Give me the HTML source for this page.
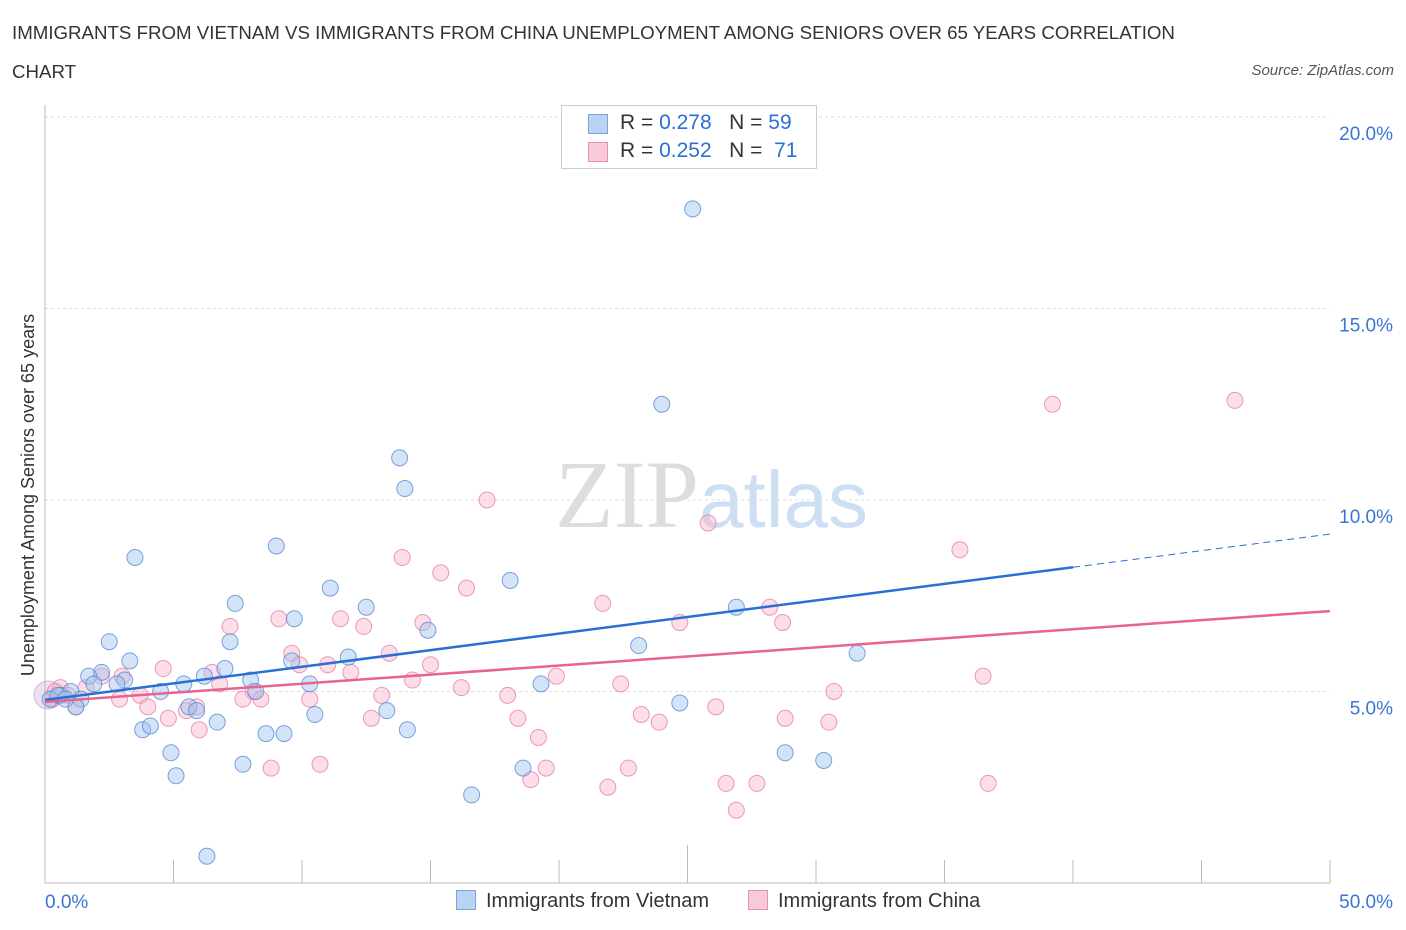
<!DOCTYPE html>
<html><head><meta charset="utf-8">
<style>
body{margin:0;background:#fff;font-family:"Liberation Sans",sans-serif;}
#wrap{position:relative;width:1406px;height:930px;overflow:hidden;}
.t{position:absolute;color:#333;font-size:18.7px;}
</style></head>
<body>
<div id="wrap">
<div class="t" style="left:12px;top:22px;">IMMIGRANTS FROM VIETNAM VS IMMIGRANTS FROM CHINA UNEMPLOYMENT AMONG SENIORS OVER 65 YEARS CORRELATION</div>
<div class="t" style="left:12px;top:61px;">CHART</div>
<div class="t" style="right:12px;top:62px;font-size:15px;font-style:italic;color:#555;">Source: ZipAtlas.com</div>
<svg id="svg" width="1406" height="930" style="position:absolute;left:0;top:0"></svg>
</div>
<script>
const yTicks=[5,10,15,20];
const yTickLabels=["5.0%","10.0%","15.0%","20.0%"];
const xTickLabels=["0.0%","50.0%"];
const vietX=[25.2,24.0,13.8,14.0,3.5,9.0,18.1,11.1,7.4,9.7,12.5,14.9,26.9,23.1,2.5,3.3,7.2,31.6,11.8,9.6,2.2,1.7,3.1,5.4,7.0,8.0,10.3,19.3,4.5,2.8,6.2,8.2,0.6,1.0,0.2,1.4,1.2,5.6,5.9,10.5,13.3,24.7,3.8,4.1,6.7,8.6,9.3,14.1,4.9,7.7,18.6,28.8,30.3,5.1,16.6,6.3,0.5,0.8,1.9];
const vietY=[17.6,12.5,11.1,10.3,8.5,8.8,7.9,7.7,7.3,6.9,7.2,6.6,7.2,6.2,6.3,5.8,6.3,6.0,5.9,5.8,5.5,5.4,5.3,5.2,5.6,5.3,5.2,5.2,5.0,5.2,5.4,5.0,4.9,5.0,4.8,4.8,4.6,4.6,4.5,4.4,4.5,4.7,4.0,4.1,4.2,3.9,3.9,4.0,3.4,3.1,3.0,3.4,3.2,2.8,2.3,0.7,4.9,4.8,5.2];
const chinaX=[46.3,39.2,17.2,25.8,35.6,13.9,15.4,16.4,21.7,28.2,24.7,28.7,9.1,11.5,7.2,14.7,9.6,12.4,13.4,11.0,9.9,15.0,11.9,19.9,4.6,6.5,36.5,14.3,22.4,16.2,30.7,2.2,3.0,6.8,8.1,8.4,13.1,18.0,1.6,0.6,0.9,3.7,2.9,1.2,7.7,10.3,4.0,5.9,26.1,23.2,4.8,12.7,18.4,23.9,28.8,30.5,5.5,6.0,19.2,8.8,10.7,19.5,22.7,26.5,27.7,36.7,18.9,21.9,26.9,0.3,0.4];
const chinaY=[12.6,12.5,10.0,9.4,8.7,8.5,8.1,7.7,7.3,7.2,6.8,6.8,6.9,6.9,6.7,6.8,6.0,6.7,6.0,5.7,5.7,5.7,5.5,5.4,5.6,5.5,5.4,5.3,5.2,5.1,5.0,5.4,5.4,5.2,5.0,4.8,4.9,4.9,5.1,5.1,4.9,4.9,4.8,4.6,4.8,4.8,4.6,4.6,4.6,4.4,4.3,4.3,4.3,4.2,4.3,4.2,4.5,4.0,3.8,3.0,3.1,3.0,3.0,2.6,2.6,2.6,2.7,2.5,1.9,4.8,5.0];
const vietTrend=[4.78,9.11], chinaTrend=[4.73,7.10];
const X=v=>45+v/50*1285, Y=v=>883-v/5*191.5;
const svg=document.getElementById('svg');
function mk(tag,attrs,parent){const e=document.createElementNS('http://www.w3.org/2000/svg',tag);for(const k in attrs)e.setAttribute(k,attrs[k]);(parent||svg).appendChild(e);return e;}
yTicks.forEach((t,i)=>{
 const g=mk('line',{x1:45,x2:1330,y1:Y(t),y2:Y(t),stroke:'#ddd','stroke-dasharray':'3,3'});
 
 
 const l=mk('text',{x:1393,y:Y(t)+23,'text-anchor':'end',fill:'#3b74d6','font-size':19,'font-family':'Liberation Sans'});
 l.textContent=yTickLabels[i];
 
 
});
const ax=mk('line',{x1:45,x2:45,y1:105,y2:883,stroke:'#bbb'});


const xa=mk('line',{x1:45,x2:1330,y1:883,y2:883,stroke:'#bbb'});


for(let i=0;i<=10;i++){
 const tk=mk('line',{x1:X(i*5),x2:X(i*5),y1:i==5?845:860,y2:883,stroke:'#bbb'});
 
 
}
[[0,'start',45],[1,'end',1393]].forEach(([i,a,x])=>{
 const l=mk('text',{x:x,y:908,'text-anchor':a,fill:'#3b74d6','font-size':19,'font-family':'Liberation Sans'});
 l.textContent=xTickLabels[i];
 
 
});
const wm=mk('text',{x:555,y:527,'font-size':96,'font-family':'Liberation Serif',fill:'#ddd'});
wm.innerHTML='ZIP<tspan fill="#cfdff3" font-family="Liberation Sans" font-size="80">atlas</tspan>';


const yt=mk('text',{transform:'translate(34,495) rotate(-90)','text-anchor':'middle',fill:'#333','font-size':18,'font-family':'Liberation Sans'});
yt.textContent='Unemployment Among Seniors over 65 years';


const bc=mk('circle',{cx:48,cy:695,r:14,fill:'rgba(200,170,210,0.35)',stroke:'rgba(180,150,200,0.6)'});


function pts(xs,ys,fill,stroke,name){xs.forEach((x,i)=>{
 const c=mk('circle',{cx:X(x),cy:Y(ys[i]),r:8,fill:fill,stroke:stroke,'stroke-width':1});
 
 
});}
pts(chinaX,chinaY,'rgba(248,180,205,0.45)','rgba(230,130,170,0.8)','china-point');
pts(vietX,vietY,'rgba(160,195,240,0.45)','rgba(90,140,210,0.8)','vietnam-point');
const bt=v=>vietTrend[0]+(vietTrend[1]-vietTrend[0])*v/50;
const l1=mk('line',{x1:X(0),y1:Y(bt(0)),x2:X(40),y2:Y(bt(40)),stroke:'#2a6fd6','stroke-width':2.5});


const l2=mk('line',{x1:X(40),y1:Y(bt(40)),x2:X(50),y2:Y(bt(50)),stroke:'#2a6fd6','stroke-width':1,'stroke-dasharray':'7,5'});


const l3=mk('line',{x1:X(0),y1:Y(chinaTrend[0]),x2:X(50),y2:Y(chinaTrend[1]),stroke:'#e8648f','stroke-width':2.5});


</script>
<div style="position:absolute;left:561px;top:105px;width:254px;height:62px;border:1px solid #ccc;background:#fff;font-size:21px;color:#333;">
 <div style="position:absolute;left:26px;top:8px;width:18px;height:18px;background:#b9d3f5;border:1px solid #7aa6e0;"></div>
 <div style="position:absolute;left:58px;top:5px;">R = <span style="color:#2a6fd6">0.278</span>&nbsp;&nbsp;&nbsp;N = <span style="color:#2a6fd6">59</span></div>
 <div style="position:absolute;left:26px;top:36px;width:18px;height:18px;background:#f9c9d8;border:1px solid #e890b0;"></div>
 <div style="position:absolute;left:58px;top:33px;">R = <span style="color:#2a6fd6">0.252</span>&nbsp;&nbsp;&nbsp;N = &nbsp;<span style="color:#2a6fd6">71</span></div>
</div>
<div style="position:absolute;left:456px;top:890px;font-size:20px;color:#333;"><span style="display:inline-block;width:18px;height:18px;background:#b9d3f5;border:1px solid #7aa6e0;vertical-align:-3px;margin-right:10px;"></span>Immigrants from Vietnam</div>
<div style="position:absolute;left:748px;top:890px;font-size:20px;color:#333;"><span style="display:inline-block;width:18px;height:18px;background:#f9c9d8;border:1px solid #e890b0;vertical-align:-3px;margin-right:10px;"></span>Immigrants from China</div>
</body></html>
